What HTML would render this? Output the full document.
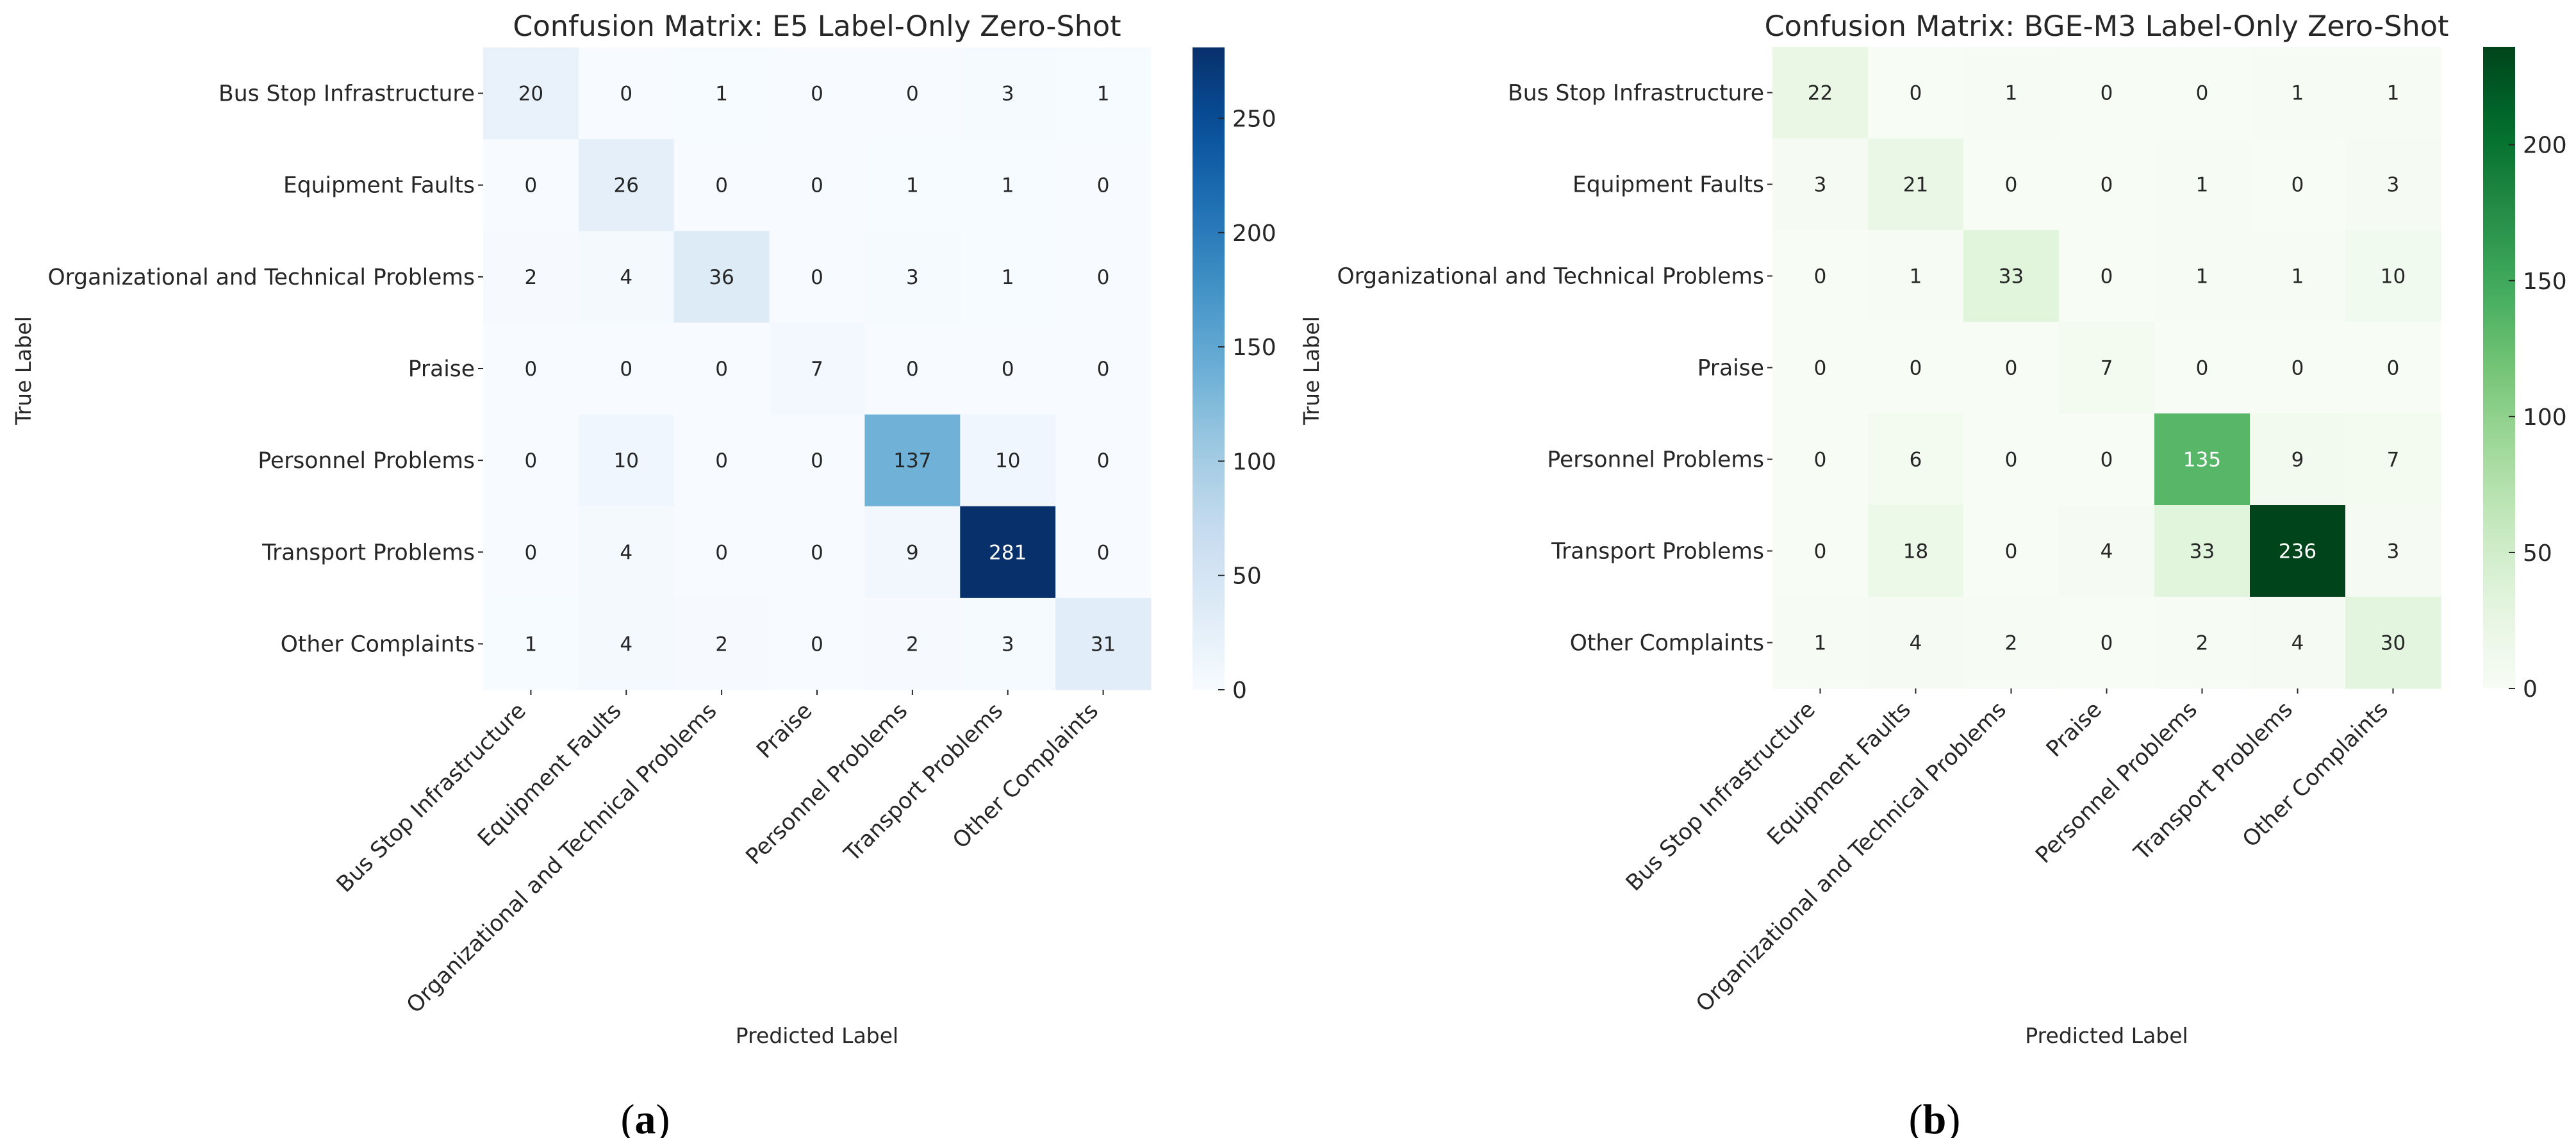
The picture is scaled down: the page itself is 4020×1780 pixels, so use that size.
<!DOCTYPE html>
<html><head><meta charset="utf-8"><style>
html,body{margin:0;padding:0;background:#fff;}
svg text{font-family:"DejaVu Sans","Liberation Sans",sans-serif;fill:#262626;}
</style></head><body>
<svg id="fig" xmlns="http://www.w3.org/2000/svg" width="4020" height="1775" viewBox="0 0 4020 1775">
<defs id="defs"></defs>
<rect width="4020" height="1775" fill="#fff"/>
</svg>
<script>
const labels = ["Bus Stop Infrastructure","Equipment Faults","Organizational and Technical Problems","Praise","Personnel Problems","Transport Problems","Other Complaints"];
const e5Matrix = [
 [20,0,1,0,0,3,1],
 [0,26,0,0,1,1,0],
 [2,4,36,0,3,1,0],
 [0,0,0,7,0,0,0],
 [0,10,0,0,137,10,0],
 [0,4,0,0,9,281,0],
 [1,4,2,0,2,3,31]
];
const bgeMatrix = [
 [22,0,1,0,0,1,1],
 [3,21,0,0,1,0,3],
 [0,1,33,0,1,1,10],
 [0,0,0,7,0,0,0],
 [0,6,0,0,135,9,7],
 [0,18,0,4,33,236,3],
 [1,4,2,0,2,4,30]
];
const e5Ticks = [0,50,100,150,200,250];
const bgeTicks = [0,50,100,150,200];
const e5Title = "Confusion Matrix: E5 Label-Only Zero-Shot";
const bgeTitle = "Confusion Matrix: BGE-M3 Label-Only Zero-Shot";

const BLUES = ["#f7fbff","#deebf7","#c6dbef","#9ecae1","#6baed6","#4292c6","#2171b5","#08519c","#08306b"];
const GREENS = ["#f7fcf5","#e5f5e0","#c7e9c0","#a1d99b","#74c476","#41ab5d","#238b45","#006d2c","#00441b"];
const NS = "http://www.w3.org/2000/svg";
const svg = document.getElementById('fig');
const defs = document.getElementById('defs');

function hex(h){return [1,3,5].map(i=>parseInt(h.substr(i,2),16));}
function cmap(stops,t){
  t=Math.max(0,Math.min(1,t));
  const p=t*(stops.length-1), i=Math.min(Math.floor(p),stops.length-2), f=p-i;
  const a=hex(stops[i]), b=hex(stops[i+1]);
  return a.map((v,k)=>Math.round(v+(b[k]-v)*f));
}
function el(tag,attrs,parent){
  const e=document.createElementNS(NS,tag);
  for(const k in attrs) e.setAttribute(k,attrs[k]);
  (parent||svg).appendChild(e); return e;
}
function txt(str,attrs,parent){const e=el('text',attrs,parent);e.textContent=str;return e;}

function drawPanel(cfg){
  const {matrix,ticks,stops,title,x0,x1,y0,y1,cbx0,cbx1,tlx,gid,letter,letterX,prefix}=cfg;
  const n=labels.length;
  let vmax=0; matrix.forEach(r=>r.forEach(v=>{if(v>vmax)vmax=v;}));
  const cw=(x1-x0)/n, ch=(y1-y0)/n;
  const xs=j=>x0+cw*j, ys=i=>y0+ch*i;
  const g=el('g',{});
  
  
  const t=txt(title,{x:(x0+x1)/2,y:56,'text-anchor':'middle','font-size':44.5},g);
  
  
  matrix.forEach((row,i)=>row.forEach((v,j)=>{
    const c=cmap(stops,v/vmax);
    const r=el('rect',{x:xs(j),y:ys(i),width:cw+0.5,height:ch+0.5,fill:`rgb(${c})`},g);
    
    
    const lum=(0.299*c[0]+0.587*c[1]+0.114*c[2])/255;
    const a=txt(String(v),{x:xs(j)+cw/2,y:ys(i)+ch/2+11,'text-anchor':'middle','font-size':31},g);
    a.style.fill = lum<0.6?'#ffffff':'#262626';
    
    
  }));
  labels.forEach((lb,i)=>{
    const cy=ys(i)+ch/2;
    el('line',{x1:x0-8,x2:x0,y1:cy,y2:cy,stroke:'#262626','stroke-width':2},g);
    const l=txt(lb,{x:x0-13,y:cy+12,'text-anchor':'end','font-size':34.5},g);
    
    
  });
  labels.forEach((lb,j)=>{
    const cx=xs(j)+cw/2;
    el('line',{x1:cx,x2:cx,y1:y1,y2:y1+8,stroke:'#262626','stroke-width':2},g);
    const ex=cx-6, ey=y1+16+19;
    const l=txt(lb,{x:ex,y:ey,'text-anchor':'end','font-size':34.5,transform:`rotate(-45 ${ex} ${ey})`},g);
    
    
  });
  const yl=txt('True Label',{x:0,y:0,'text-anchor':'middle','font-size':33,transform:`translate(${tlx} 578) rotate(-90)`},g);
  
  
  const xl=txt('Predicted Label',{x:(x0+x1)/2,y:1627,'text-anchor':'middle','font-size':33},g);
  
  
  const lg=el('linearGradient',{id:gid,x1:0,y1:1,x2:0,y2:0},defs);
  for(let k=0;k<=20;k++){const c=cmap(stops,k/20);el('stop',{offset:k/20,'stop-color':`rgb(${c})`},lg);}
  const cb=el('rect',{x:cbx0,y:y0,width:cbx1-cbx0,height:y1-y0,fill:`url(#${gid})`},g);
  
  
  const cy=v=>y1-(y1-y0)*v/vmax;
  ticks.forEach(v=>{
    el('line',{x1:cbx1-10,x2:cbx1,y1:cy(v),y2:cy(v),stroke:'#262626','stroke-width':2},g);
    const l=txt(String(v),{x:cbx1+12,y:cy(v)+13,'font-size':36},g);
    
    
  });
  const lt=txt('',{x:letterX,y:1768,'text-anchor':'middle','font-size':66});
  lt.style.fontFamily='"Liberation Serif",serif';
  lt.style.fill='#000';
  const p1=el('tspan',{},lt);p1.textContent='(';
  const p2=el('tspan',{'font-weight':'bold'},lt);p2.textContent=letter;
  const p3=el('tspan',{},lt);p3.textContent=')';
  
  
}
drawPanel({matrix:e5Matrix,ticks:e5Ticks,stops:BLUES,title:e5Title,x0:754,x1:1796,y0:74,y1:1076,cbx0:1861,cbx1:1911,tlx:48,gid:'gBlue',letter:'a',letterX:1007,prefix:'e5'});
drawPanel({matrix:bgeMatrix,ticks:bgeTicks,stops:GREENS,title:bgeTitle,x0:2766,x1:3809,y0:73,y1:1074,cbx0:3875,cbx1:3925,tlx:2058,gid:'gGreen',letter:'b',letterX:3019,prefix:'bge'});
</script>
</body></html>
